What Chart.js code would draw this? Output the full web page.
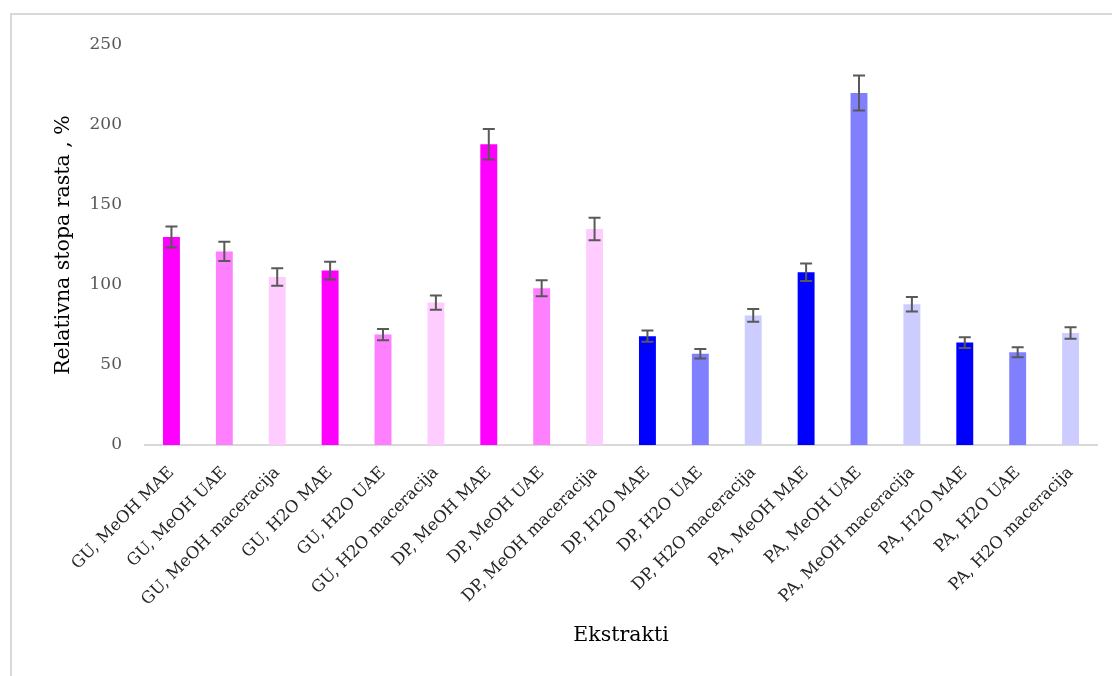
<!DOCTYPE html>
<html>
<head>
<meta charset="utf-8">
<script src="https://cdn.jsdelivr.net/npm/chart.js@4/dist/chart.umd.min.js"></script>
<style>
    html, body { margin: 0; padding: 0; background: #fff; overflow: hidden; }
    .frame {
        position: absolute; left: 10px; top: 13px; width: 1200px; height: 800px;
        border-top: 2px solid #d9d9d9; border-left: 2px solid #d9d9d9;
    }
    .wrap { position: absolute; left: 0; top: 0; width: 1112px; height: 676px; }
</style>
</head>
<body>
<div class="frame"></div>
<div class="wrap"><canvas id="growthChart"></canvas></div>
<script>
// Relative growth rate per extract
const categories = [
    'GU, MeOH MAE', 'GU, MeOH UAE', 'GU, MeOH maceracija',
    'GU, H2O MAE', 'GU, H2O UAE', 'GU, H2O maceracija',
    'DP, MeOH MAE', 'DP, MeOH UAE', 'DP, MeOH maceracija',
    'DP, H2O MAE', 'DP, H2O UAE', 'DP, H2O maceracija',
    'PA, MeOH MAE', 'PA, MeOH UAE', 'PA, MeOH maceracija',
    'PA, H2O MAE', 'PA, H2O UAE', 'PA, H2O maceracija'
];
const growthValues = [130, 121, 105, 109, 69, 89, 188, 98, 135, 68, 57, 81, 108, 220, 88, 64, 58, 70];
const growthErrors = [6.5, 6, 5.5, 5.5, 3.5, 4.5, 9.5, 5, 7, 3.5, 3, 4, 5.5, 11, 4.5, 3.3, 3.1, 3.6];
const yTicks = [0, 50, 100, 150, 200, 250];

// colour cycle: MAE / UAE / maceracija, pink for GU+DP MeOH, blue from DP H2O on
const pinkShades = ['#ff00ff', '#ff80ff', '#ffccff'];
const blueShades = ['#0000ff', '#8080ff', '#ccccff'];
const barColors = categories.map((c, i) => (i < 9 ? pinkShades : blueShades)[i % 3]);

const serif = "'DejaVu Serif', serif";

// Error bars drawn through the chart scales
const errorBarPlugin = {
    id: 'errorBars',
    afterDatasetsDraw(chart) {
        const ctx = chart.ctx;
        const yScale = chart.scales.y;
        const meta = chart.getDatasetMeta(0);
        ctx.save();
        ctx.strokeStyle = '#595959';
        ctx.lineWidth = 2;
        meta.data.forEach((bar, i) => {
            const v = growthValues[i];
            const e = growthErrors[i];
            const top = yScale.getPixelForValue(v + e);
            const bottom = yScale.getPixelForValue(v - e);
            const cap = 6;
            ctx.beginPath();
            ctx.moveTo(bar.x, top);
            ctx.lineTo(bar.x, bottom);
            ctx.moveTo(bar.x - cap, top);
            ctx.lineTo(bar.x + cap, top);
            ctx.moveTo(bar.x - cap, bottom);
            ctx.lineTo(bar.x + cap, bottom);
            ctx.stroke();
        });
        ctx.restore();
    }
};

new Chart(document.getElementById('growthChart'), {
    type: 'bar',
    data: {
        labels: categories,
        datasets: [{
            data: growthValues,
            backgroundColor: barColors,
            borderWidth: 0,
            barPercentage: 0.32,
            categoryPercentage: 1
        }]
    },
    options: {
        responsive: true,
        maintainAspectRatio: false,
        animation: false,
        layout: { padding: { top: 45, right: 15, left: 0, bottom: 0 } },
        plugins: {
            legend: { display: false },
            tooltip: { enabled: false }
        },
        scales: {
            x: {
                grid: { display: false },
                border: { display: true, color: '#d9d9d9', width: 2 },
                ticks: {
                    color: '#262626',
                    minRotation: 45,
                    maxRotation: 45,
                    autoSkip: false,
                    padding: 10,
                    font: { family: serif, size: 16.5 }
                },
                title: {
                    display: true,
                    text: 'Ekstrakti',
                    color: '#000',
                    padding: { top: 0, bottom: 28 },
                    font: { family: serif, size: 20.5 }
                },
                afterFit(scale) { scale.height = 231; }
            },
            y: {
                min: 0,
                max: 250,
                afterBuildTicks(scale) { scale.ticks = yTicks.map(v => ({ value: v })); },
                grid: { display: false },
                border: { display: false },
                ticks: {
                    color: '#595959',
                    padding: 15,
                    font: { family: serif, size: 17 }
                },
                title: {
                    display: true,
                    text: 'Relativna stopa rasta , %',
                    color: '#000',
                    padding: { top: 51, bottom: 0 },
                    font: { family: serif, size: 20.5 }
                },
                afterFit(scale) { scale.width = 145; }
            }
        }
    },
    plugins: [errorBarPlugin]
});
</script>
</body>
</html>
